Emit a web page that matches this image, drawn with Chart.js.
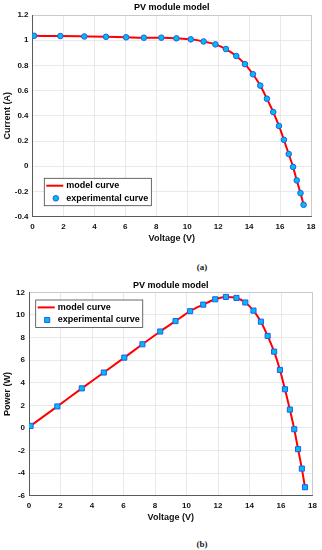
<!DOCTYPE html>
<html>
<head>
<meta charset="utf-8">
<script src="https://cdn.jsdelivr.net/npm/chart.js@4.4.1/dist/chart.umd.min.js"></script>
<style>
  body { margin: 0; background: #fff; width: 322px; height: 550px; position: relative; overflow: hidden; }
  .plot { position: absolute; left: 0; width: 322px; height: 250px; }
  .cap { position: absolute; left: 190px; width: 24px; text-align: center;
         font: bold 9px "Liberation Serif", serif; color: #222; }
</style>
</head>
<body>
<div class="plot" style="top:0"><canvas id="ivChart" width="322" height="250"></canvas></div>
<div class="cap" style="top:262px">(a)</div>
<div class="plot" style="top:276px"><canvas id="pvChart" width="322" height="250"></canvas></div>
<div class="cap" style="top:539px">(b)</div>

<script>
// values
const voltage = [0.1, 1.8, 3.35, 4.75, 6.05, 7.2, 8.33, 9.3, 10.23, 11.06, 11.82, 12.5, 13.17,
                 13.73, 14.25, 14.72, 15.15, 15.56, 15.93, 16.25, 16.56, 16.84, 17.08, 17.32, 17.52];
const current = [1.035, 1.033, 1.03, 1.027, 1.023, 1.02, 1.02, 1.015, 1.007, 0.99, 0.967, 0.93, 0.875,
                 0.81, 0.73, 0.64, 0.536, 0.43, 0.32, 0.21, 0.097, -0.005, -0.112, -0.213, -0.305];
const power = [0.18, 1.9, 3.5, 4.9, 6.22, 7.4, 8.53, 9.45, 10.33, 10.91, 11.38, 11.59, 11.5,
               11.1, 10.38, 9.4, 8.14, 6.75, 5.13, 3.42, 1.62, -0.12, -1.88, -3.6, -5.25];

const voltageTicks = [0, 2, 4, 6, 8, 10, 12, 14, 16, 18];
const currentTicks = [-0.4, -0.2, 0, 0.2, 0.4, 0.6, 0.8, 1, 1.2];
const powerTicks = [-6, -4, -2, 0, 2, 4, 6, 8, 10, 12];

const seriesNames = ['model curve', 'experimental curve'];

const boldFont = { family: '"Liberation Sans", Arial, sans-serif', weight: 'bold' };

// legend drawn inside the axes, like matlab does
const boxLegend = {
    id: 'boxLegend',
    afterDatasetsDraw(chart, args, opts) {
        const ctx = chart.ctx;
        const area = chart.chartArea;
        const rowH = 12.6;
        ctx.save();
        ctx.font = 'bold 9px "Liberation Sans", Arial, sans-serif';
        let textW = 0;
        seriesNames.forEach(n => { textW = Math.max(textW, ctx.measureText(n).width); });
        const w = 22 + textW + 3;
        const h = rowH * 2 + 2.2;
        const x = area.left + opts.dx;
        const y = opts.fromTop ? area.top + opts.dy : area.bottom - opts.dy - h;

        ctx.fillStyle = '#fff';
        ctx.fillRect(x, y, w, h);
        ctx.strokeStyle = '#444';
        ctx.lineWidth = 0.8;
        ctx.strokeRect(x, y, w, h);

        const y1 = y + 1.1 + rowH / 2;
        const y2 = y1 + rowH;

        ctx.strokeStyle = '#ff0000';
        ctx.lineWidth = 2;
        ctx.beginPath();
        ctx.moveTo(x + 2, y1);
        ctx.lineTo(x + 19, y1);
        ctx.stroke();

        const pt = chart.data.datasets[1];
        ctx.fillStyle = pt.pointBackgroundColor;
        ctx.strokeStyle = pt.pointBorderColor;
        ctx.lineWidth = pt.pointBorderWidth;
        ctx.beginPath();
        if (pt.pointStyle === 'rect') {
            const s = Math.SQRT1_2 * pt.pointRadius;
            ctx.rect(x + 11.5 - s, y2 - s, 2 * s, 2 * s);
        } else {
            ctx.arc(x + 11.5, y2, pt.pointRadius, 0, Math.PI * 2);
        }
        ctx.fill();
        ctx.stroke();

        ctx.fillStyle = '#000';
        ctx.textBaseline = 'middle';
        ctx.fillText(seriesNames[0], x + 22, y1);
        ctx.fillText(seriesNames[1], x + 22, y2);
        ctx.restore();
    }
};

function gridColor(ctx) {
    const ticks = ctx.scale.ticks;
    if (ctx.index === ticks.length - 1) return '#bdbdbd';
    return '#e3e3e3';
}

function tickText(v) {
    return String(Math.round(v * 10) / 10);
}

function makeChart(id, yValues, yTicks, yTitle, opt) {
    const pts = voltage.map((v, i) => ({ x: v, y: yValues[i] }));
    return new Chart(document.getElementById(id), {
        type: 'line',
        data: {
            datasets: [{
                label: seriesNames[0],
                data: pts,
                borderColor: '#ff0000',
                borderWidth: 2,
                pointRadius: 0,
                cubicInterpolationMode: 'monotone',
                order: 2
            }, {
                label: seriesNames[1],
                data: pts,
                showLine: false,
                pointStyle: opt.marker,
                pointRadius: opt.markerSize,
                pointBackgroundColor: '#00bfe0',
                pointBorderColor: '#2458ff',
                pointBorderWidth: 1,
                order: 1
            }]
        },
        options: {
            responsive: false,
            animation: false,
            events: [],
            layout: { padding: { left: 0, right: opt.padRight, top: 0, bottom: 0 } },
            plugins: {
                legend: { display: false },
                tooltip: { enabled: false },
                title: {
                    display: true,
                    text: 'PV module model',
                    fullSize: false,
                    color: '#000',
                    font: Object.assign({ size: 9 }, boldFont),
                    padding: opt.titlePad
                },
                boxLegend: opt.legend
            },
            scales: {
                x: {
                    type: 'linear',
                    min: 0,
                    max: 18,
                    afterBuildTicks: s => { s.ticks = voltageTicks.map(v => ({ value: v })); },
                    afterFit: s => { s.height = opt.xHeight; },
                    grid: { color: gridColor, lineWidth: 0.8, drawTicks: false },
                    border: { color: '#5a5a5a', width: 1 },
                    ticks: { color: '#111', padding: 5, maxRotation: 0, callback: tickText,
                             font: Object.assign({ size: 8 }, boldFont) },
                    title: { display: true, text: 'Voltage (V)', color: '#111',
                             padding: { top: 0, bottom: opt.xTitlePad },
                             font: Object.assign({ size: 9 }, boldFont) }
                },
                y: {
                    type: 'linear',
                    min: yTicks[0],
                    max: yTicks[yTicks.length - 1],
                    afterBuildTicks: s => { s.ticks = yTicks.map(v => ({ value: v })); },
                    afterFit: s => { s.width = opt.yWidth; },
                    grid: { color: gridColor, lineWidth: 0.8, drawTicks: false },
                    border: { color: '#5a5a5a', width: 1 },
                    ticks: { color: '#111', padding: 4, callback: tickText,
                             font: Object.assign({ size: 8 }, boldFont) },
                    title: { display: true, text: yTitle, color: '#111', padding: 2,
                             font: Object.assign({ size: 9 }, boldFont) }
                }
            }
        },
        plugins: [boxLegend]
    });
}

makeChart('ivChart', current, currentTicks, 'Current (A)', {
    marker: 'circle', markerSize: 2.8, padRight: 11, yWidth: 32.5, xHeight: 33.3, xTitlePad: 5.6,
    titlePad: { top: 2, bottom: 2.2 },
    legend: { dx: 11.8, dy: 11, fromTop: false }
});

makeChart('pvChart', power, powerTicks, 'Power (W)', {
    marker: 'rect', markerSize: 3.6, padRight: 8.7, yWidth: 29, xHeight: 30.3, xTitlePad: 3,
    titlePad: { top: 4, bottom: 1.5 },
    legend: { dx: 6.7, dy: 7.7, fromTop: true }
});
</script>
</body>
</html>
